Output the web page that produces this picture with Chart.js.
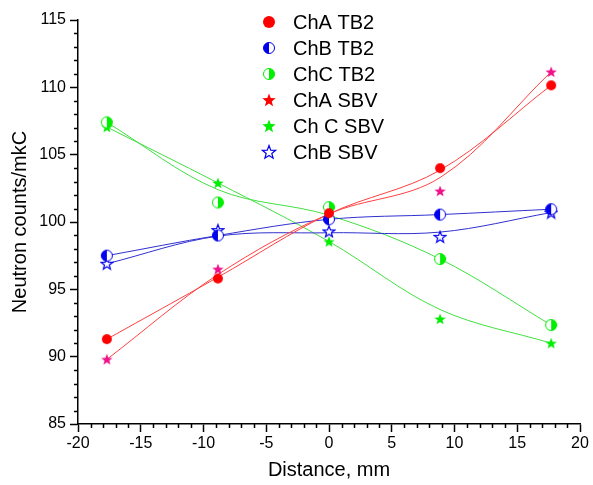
<!DOCTYPE html>
<html lang="en">
<head>
<meta charset="UTF-8">
<title>Neutron counts</title>
<script src="https://cdn.jsdelivr.net/npm/chart.js"></script>
<style>
  body { margin: 0; background: #fff; }
  #wrap { width: 593px; height: 485px; position: relative; }
</style>
</head>
<body>
<div id="wrap"><canvas id="chart"></canvas></div>
<script>
    // positions of the detectors, mm
    let xPos = [-17.7, -8.85, 0, 8.85, 17.7];

    // measured points
    let chaTB2 = [91.3, 95.8, 100.65, 104.0, 110.15];
    let chbTB2 = [97.5, 99.0, 100.2, 100.55, 100.95];
    let chcTB2 = [107.4, 101.45, 101.1, 97.25, 92.35];
    let chaSBV = [89.8, 96.5, 100.9, 102.3, 111.15];
    let chcSBV = [107.05, 102.9, 98.55, 92.8, 91.0];
    let chbSBV = [96.9, 99.4, 99.3, 98.9, 100.7];

    // fitted curves at the same positions
    let chaTB2Fit = [91.3, 95.9, 100.6, 103.85, 110.15];
    let chbTB2Fit = [97.5, 99.0, 100.2, 100.55, 100.95];
    let chcTB2Fit = [107.4, 102.4, 100.5, 97.25, 92.35];
    let chaSBVFit = [89.8, 96.1, 100.6, 103.3, 111.15];
    let chcSBVFit = [107.05, 102.9, 98.55, 93.5, 91.0];
    let chbSBVFit = [96.9, 98.95, 99.2, 99.25, 100.7];

    let legendNames = ['ChA TB2', 'ChB TB2', 'ChC TB2', 'ChA SBV', 'Ch C SBV', 'ChB SBV'];

    const RED = '#ff0000', PINK = '#ee1188', GREEN = '#00ee00', BLUE = '#0000ee';
    const FONT = "'Liberation Sans', Arial, sans-serif";

    function halfCircle(color, side, r) {
        let c = document.createElement('canvas');
        c.width = c.height = 2 * r + 2;
        let ctx = c.getContext('2d');
        let m = r + 1;
        ctx.fillStyle = '#fff';
        ctx.beginPath(); ctx.arc(m, m, r - 0.5, 0, Math.PI * 2); ctx.fill();
        ctx.fillStyle = color;
        ctx.beginPath();
        if (side === 'left') ctx.arc(m, m, r - 0.5, Math.PI / 2, Math.PI * 1.5);
        else ctx.arc(m, m, r - 0.5, -Math.PI / 2, Math.PI / 2);
        ctx.closePath(); ctx.fill();
        ctx.strokeStyle = color; ctx.lineWidth = 1;
        ctx.beginPath(); ctx.arc(m, m, r - 0.5, 0, Math.PI * 2); ctx.stroke();
        return c;
    }

    function star(color, filled, r) {
        let c = document.createElement('canvas');
        c.width = c.height = 2 * r + 2;
        let ctx = c.getContext('2d');
        let m = r + 1;
        ctx.beginPath();
        for (let i = 0; i < 10; i++) {
            let rr = i % 2 === 0 ? r : r * 0.42;
            let a = -Math.PI / 2 + i * Math.PI / 5;
            let px = m + rr * Math.cos(a), py = m + 0.5 + rr * Math.sin(a);
            if (i === 0) ctx.moveTo(px, py); else ctx.lineTo(px, py);
        }
        ctx.closePath();
        if (filled) { ctx.fillStyle = color; ctx.fill(); }
        else { ctx.fillStyle = '#fff'; ctx.fill(); ctx.strokeStyle = color; ctx.lineWidth = 1.2; ctx.stroke(); }
        return c;
    }

    function redCircle(r) {
        let c = document.createElement('canvas');
        c.width = c.height = 2 * r + 2;
        let ctx = c.getContext('2d');
        ctx.fillStyle = RED;
        ctx.beginPath(); ctx.arc(r + 1, r + 1, r, 0, Math.PI * 2); ctx.fill();
        return c;
    }

    let markers = [
        redCircle(5),
        halfCircle(BLUE, 'left', 6),
        halfCircle(GREEN, 'right', 6),
        star(PINK, true, 6),
        star(GREEN, true, 6),
        star(BLUE, false, 6)
    ];
    let legendIcons = [
        redCircle(6),
        halfCircle(BLUE, 'left', 6),
        halfCircle(GREEN, 'right', 6),
        star(RED, true, 7),
        star(GREEN, true, 7),
        star(BLUE, false, 7)
    ];

    function pts(ys) {
        return xPos.map(function (x, i) { return { x: x, y: ys[i] }; });
    }

    function pointSet(label, ys, icon) {
        return {
            label: label, data: pts(ys), showLine: false,
            pointStyle: icon, pointRadius: 6, order: 1
        };
    }

    function fitSet(ys, color) {
        return {
            label: 'fit', data: pts(ys), showLine: true,
            borderColor: color, borderWidth: 1, pointRadius: 0,
            tension: 0.35, order: 2
        };
    }

    let datasets = [
        fitSet(chaTB2Fit, '#ff4040'),
        fitSet(chaSBVFit, '#ff4040'),
        fitSet(chbTB2Fit, '#3030d0'),
        fitSet(chbSBVFit, '#3030d0'),
        fitSet(chcTB2Fit, '#40e040'),
        fitSet(chcSBVFit, '#40e040'),
        pointSet(legendNames[0], chaTB2, markers[0]),
        pointSet(legendNames[1], chbTB2, markers[1]),
        pointSet(legendNames[2], chcTB2, markers[2]),
        pointSet(legendNames[3], chaSBV, markers[3]),
        pointSet(legendNames[4], chcSBV, markers[4]),
        pointSet(legendNames[5], chbSBV, markers[5])
    ];

    function tickCol(ctx) {
        return ctx.tick && ctx.tick.value % 5 === 0 ? '#000' : 'rgba(0,0,0,0)';
    }
    function tickLabel(v) {
        return v % 5 === 0 ? v : '';
    }

    // short ticks between the labelled ones
    let minorTicks = {
        id: 'minorTicks',
        afterDraw: function (chart) {
            let ctx = chart.ctx;
            ctx.save();
            ctx.strokeStyle = '#000';
            ctx.lineWidth = 1.5;
            let xs = chart.scales.x, ys = chart.scales.y;
            xs.ticks.forEach(function (t) {
                if (t.value % 5 === 0) return;
                let px = Math.round(xs.getPixelForValue(t.value)) + 0.5;
                ctx.beginPath(); ctx.moveTo(px, xs.top); ctx.lineTo(px, xs.top + 4); ctx.stroke();
            });
            ys.ticks.forEach(function (t) {
                if (t.value % 5 === 0) return;
                let py = Math.round(ys.getPixelForValue(t.value)) + 0.5;
                ctx.beginPath(); ctx.moveTo(ys.right, py); ctx.lineTo(ys.right - 4, py); ctx.stroke();
            });
            ctx.restore();
        }
    };

    let boxLegend = {
        id: 'boxLegend',
        afterDraw: function (chart) {
            let ctx = chart.ctx;
            ctx.save();
            ctx.font = '20px ' + FONT;
            ctx.fillStyle = '#000';
            ctx.textBaseline = 'middle';
            legendNames.forEach(function (name, i) {
                let y = 22 + i * 26;
                let ic = legendIcons[i];
                ctx.drawImage(ic, 269 - ic.width / 2, y - ic.height / 2);
                ctx.fillText(name, 293, y + 1);
            });
            ctx.restore();
        }
    };

    new Chart(document.getElementById('chart'), {
        type: 'scatter',
        data: { datasets: datasets },
        options: {
            responsive: true,
            maintainAspectRatio: false,
            animation: false,
            layout: { padding: { top: 20, right: 13, left: 0, bottom: 0 } },
            plugins: { legend: { display: false }, tooltip: { enabled: false } },
            scales: {
                x: {
                    type: 'linear', position: 'bottom', min: -20, max: 20,
                    ticks: {
                        stepSize: 1, autoSkip: false, maxRotation: 0, padding: 2,
                        color: '#000', font: { family: FONT, size: 16 }, callback: tickLabel
                    },
                    grid: { drawOnChartArea: false, tickLength: 8, tickWidth: 1.5, tickColor: tickCol },
                    border: { color: '#000', width: 1.5 },
                    title: {
                        display: true, text: 'Distance, mm', color: '#000',
                        font: { family: FONT, size: 20 }, padding: { top: 0, bottom: 3 }
                    },
                    afterFit: function (s) { s.height = 61; }
                },
                y: {
                    type: 'linear', min: 85, max: 115,
                    ticks: {
                        stepSize: 1, autoSkip: false, padding: 4,
                        color: '#000', font: { family: FONT, size: 16 }, callback: tickLabel
                    },
                    grid: { drawOnChartArea: false, tickLength: 8, tickWidth: 1.5, tickColor: tickCol },
                    border: { color: '#000', width: 1.5 },
                    title: {
                        display: true, text: 'Neutron counts/mkC', color: '#000',
                        font: { family: FONT, size: 20 }, padding: { top: 8, bottom: 0 }
                    },
                    afterFit: function (s) { s.width = 78; }
                }
            }
        },
        plugins: [minorTicks, boxLegend]
    });
</script>
</body>
</html>
